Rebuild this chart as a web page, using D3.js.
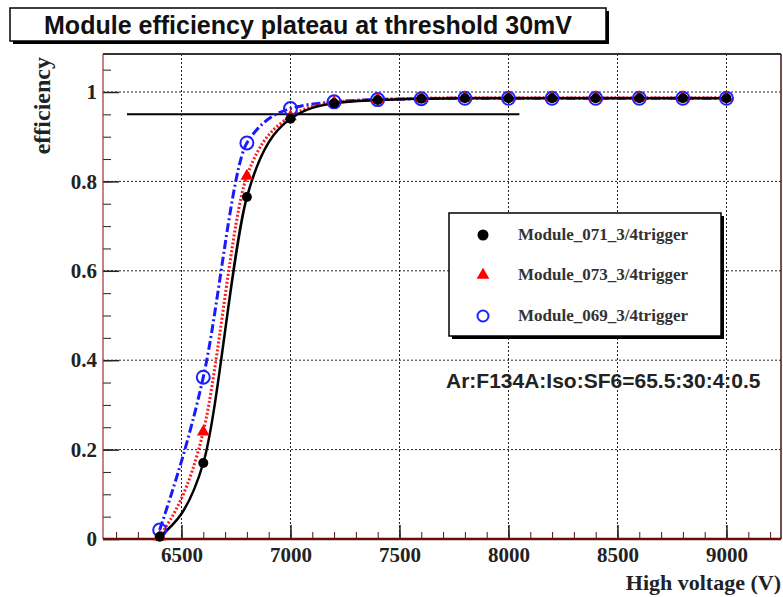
<!DOCTYPE html>
<html><head><meta charset="utf-8">
<script src="https://cdn.jsdelivr.net/npm/d3@7"></script>
<style>body{margin:0;background:#fff}svg{display:block}</style>
</head><body>
<svg id="c" width="783" height="597"></svg>
<script>
// ---- data ----
const voltages = [6400, 6600, 6800, 7000, 7200, 7400, 7600, 7800, 8000, 8200, 8400, 8600, 8800, 9000];
const eff071 = [0.005, 0.17, 0.765, 0.94, 0.975, 0.982, 0.985, 0.986, 0.986, 0.986, 0.986, 0.986, 0.986, 0.986];
const eff073 = [0.005, 0.24, 0.812, 0.945, 0.977, 0.983, 0.986, 0.987, 0.987, 0.987, 0.987, 0.987, 0.987, 0.987];
const eff069 = [0.02, 0.362, 0.886, 0.963, 0.978, 0.983, 0.985, 0.986, 0.986, 0.986, 0.986, 0.986, 0.986, 0.986];
const seriesNames = ["Module_071_3/4trigger", "Module_073_3/4trigger", "Module_069_3/4trigger"];
const xTicks = [6500, 7000, 7500, 8000, 8500, 9000];
const yTicks = [0, 0.2, 0.4, 0.6, 0.8, 1];
const refLevel = 0.95, refFrom = 6250, refTo = 8050;
const titleText = "Module efficiency plateau at threshold 30mV";
const gasText = "Ar:F134A:Iso:SF6=65.5:30:4:0.5";
const xTitle = "High voltage (V)", yTitle = "efficiency";

// ---- layout ----
const svg = d3.select("#c");
const L = 103, R = 781, T = 54, B = 539;
const x = d3.scaleLinear().domain([6140, 9250]).range([L, R]);
const y = d3.scaleLinear().domain([0, 1.085]).range([B, T]);
const frameCol = "#4a1414";
const serif = "'Liberation Serif','Times New Roman',serif";
const sans = "'Liberation Sans',Arial,sans-serif";

svg.append("rect").attr("width", 783).attr("height", 597).attr("fill", "#fff");

// grid
const grid = svg.append("g").attr("stroke", "#222").attr("stroke-width", 1).attr("stroke-dasharray", "2,2");
grid.selectAll("line.vx").data(xTicks).join("line")
  .attr("x1", d => x(d)).attr("x2", d => x(d)).attr("y1", T).attr("y2", B);
grid.selectAll("line.hy").data(yTicks.filter(d => d > 0)).join("line")
  .attr("y1", d => y(d)).attr("y2", d => y(d)).attr("x1", L).attr("x2", R);

// axes ticks
const xMinor = d3.range(6200, 9250, 100);
const yMinor = d3.range(0, 1.086, 0.05);
const axB = svg.append("g").attr("transform", `translate(0,${B})`)
  .call(d3.axisBottom(x).tickValues(xMinor).tickSize(-7).tickFormat(""));
axB.select(".domain").remove();
axB.selectAll("line").attr("stroke", frameCol);
const axB2 = svg.append("g").attr("transform", `translate(0,${B})`)
  .call(d3.axisBottom(x).tickValues(xTicks).tickSize(-14).tickPadding(8).tickFormat(d3.format("d")));
axB2.select(".domain").remove();
axB2.selectAll("line").attr("stroke", "#222").attr("stroke-width", 1.5);
axB2.selectAll("text").attr("font-family", serif).attr("font-weight", "bold").attr("font-size", 21).attr("fill", "#222");

const axL = svg.append("g").attr("transform", `translate(${L},0)`)
  .call(d3.axisLeft(y).tickValues(yMinor).tickSize(-8).tickFormat(""));
axL.select(".domain").remove();
axL.selectAll("line").attr("stroke", "#222");
const axL2 = svg.append("g").attr("transform", `translate(${L},0)`)
  .call(d3.axisLeft(y).tickValues(yTicks).tickSize(-16).tickPadding(6).tickFormat(d3.format("~g")));
axL2.select(".domain").remove();
axL2.selectAll("line").attr("stroke", "#222").attr("stroke-width", 1.5);
axL2.selectAll("text").attr("font-family", serif).attr("font-weight", "bold").attr("font-size", 21).attr("fill", "#222");

// frame
svg.append("line").attr("x1", L).attr("x2", R).attr("y1", T).attr("y2", T).attr("stroke", "#333").attr("stroke-width", 2);
svg.append("line").attr("x1", R).attr("x2", R).attr("y1", T).attr("y2", B).attr("stroke", frameCol).attr("stroke-width", 1.5);
svg.append("line").attr("x1", L).attr("x2", L).attr("y1", T).attr("y2", B).attr("stroke", "#a03030").attr("stroke-width", 1.2);
svg.append("line").attr("x1", L).attr("x2", R).attr("y1", B).attr("y2", B).attr("stroke", "#6a0c0c").attr("stroke-width", 2.5);

// reference line
svg.append("line").attr("x1", x(refFrom)).attr("x2", x(refTo)).attr("y1", y(refLevel)).attr("y2", y(refLevel))
  .attr("stroke", "#000").attr("stroke-width", 2);

// curves
const line = d3.line().x(d => x(d[0])).y(d => y(d[1])).curve(d3.curveMonotoneX);
const mk = arr => voltages.map((v, i) => [v, arr[i]]);
svg.append("path").attr("d", line(mk(eff069))).attr("fill", "none").attr("stroke", "#1a1aff")
  .attr("stroke-width", 3).attr("stroke-dasharray", "9,3,2,3");
svg.append("path").attr("d", line(mk(eff073))).attr("fill", "none").attr("stroke", "#ff1a1a")
  .attr("stroke-width", 3).attr("stroke-dasharray", "2,2");
svg.append("path").attr("d", line(mk(eff071))).attr("fill", "none").attr("stroke", "#000")
  .attr("stroke-width", 2.5);

// markers
const tri = d3.symbol().type(d3.symbolTriangle).size(70);
svg.append("g").selectAll("circle").data(mk(eff069)).join("circle")
  .attr("cx", d => x(d[0])).attr("cy", d => y(d[1])).attr("r", 6.5)
  .attr("fill", "none").attr("stroke", "#2020ff").attr("stroke-width", 2);
svg.append("g").selectAll("path").data(mk(eff073)).join("path")
  .attr("d", tri).attr("transform", d => `translate(${x(d[0])},${y(d[1])})`).attr("fill", "#ff0000");
svg.append("g").selectAll("circle").data(mk(eff071)).join("circle")
  .attr("cx", d => x(d[0])).attr("cy", d => y(d[1])).attr("r", 5).attr("fill", "#000");

// legend
const lg = svg.append("g");
lg.append("rect").attr("x", 452).attr("y", 216).attr("width", 272).attr("height", 123).attr("fill", "#000");
lg.append("rect").attr("x", 449).attr("y", 213).attr("width", 272).attr("height", 123).attr("fill", "#fff").attr("stroke", "#000").attr("stroke-width", 1.5);
const rowsY = [235, 275, 316];
const mx = 483, tx = 518;
lg.append("circle").attr("cx", mx).attr("cy", rowsY[0]).attr("r", 5.5).attr("fill", "#000");
lg.append("path").attr("d", tri).attr("transform", `translate(${mx},${rowsY[1]})`).attr("fill", "#ff0000");
lg.append("circle").attr("cx", mx).attr("cy", rowsY[2]).attr("r", 5.5).attr("fill", "none").attr("stroke", "#2020ff").attr("stroke-width", 2);
lg.selectAll("text").data(seriesNames).join("text")
  .attr("x", tx).attr("y", (d, i) => rowsY[i] + 5).text(d => d)
  .attr("font-family", serif).attr("font-weight", "bold").attr("font-size", 17).attr("fill", "#333");

// gas annotation
svg.append("text").attr("x", 446).attr("y", 388).text(gasText)
  .attr("font-family", sans).attr("font-weight", "bold").attr("font-size", 21).attr("fill", "#222");

// axis titles
svg.append("text").attr("x", R).attr("y", 590).attr("text-anchor", "end").text(xTitle)
  .attr("font-family", serif).attr("font-weight", "bold").attr("font-size", 22).attr("fill", "#222");
svg.append("text").attr("transform", "translate(50,57) rotate(-90)").attr("text-anchor", "end").text(yTitle)
  .attr("font-family", serif).attr("font-weight", "bold").attr("font-size", 24).attr("fill", "#222");

// title box
svg.append("rect").attr("x", 13).attr("y", 11).attr("width", 596).attr("height", 33).attr("fill", "#000");
svg.append("rect").attr("x", 10).attr("y", 8).attr("width", 596).attr("height", 33).attr("fill", "#fff").attr("stroke", "#000").attr("stroke-width", 1.5);
svg.append("text").attr("x", 308).attr("y", 34).attr("text-anchor", "middle").text(titleText)
  .attr("font-family", sans).attr("font-weight", "bold").attr("font-size", 25).attr("fill", "#111");
</script>
</body></html>
